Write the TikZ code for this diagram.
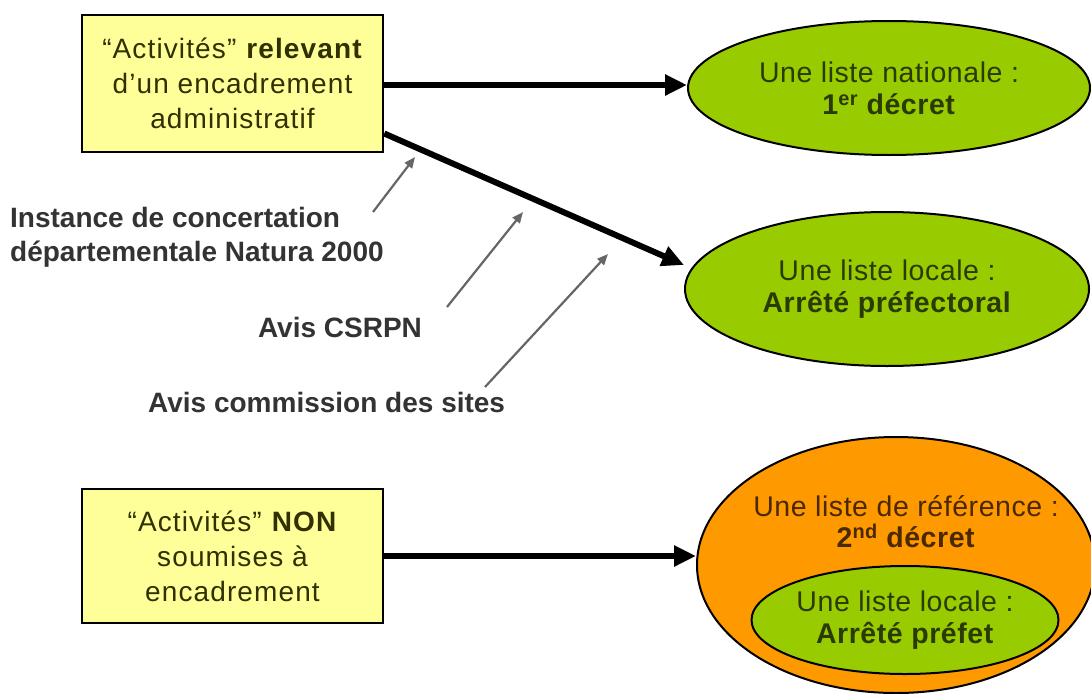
\documentclass[tikz,border=0pt]{standalone}
\usepackage{fontspec}
\setmainfont{Liberation Sans}
\newfontfamily\spacedfont[LetterSpace=4]{Liberation Sans}
\newfontfamily\ellfont[LetterSpace=2]{Liberation Sans}
\usetikzlibrary{shapes.geometric,arrows.meta}
\definecolor{boxyellow}{HTML}{FFFF99}
\definecolor{lgreen}{HTML}{99CC00}
\definecolor{lorange}{HTML}{FF9900}
\definecolor{txtgreen}{HTML}{2A3A00}
\definecolor{txtbrown}{HTML}{4A2800}
\definecolor{txtbox}{HTML}{303000}
\definecolor{labgray}{HTML}{333333}
\definecolor{arrgray}{HTML}{666666}
\begin{document}
\begin{tikzpicture}[x=1pt,y=-1pt,
  yellowbox/.style={draw=black,line width=2.5pt,fill=boxyellow,minimum width=301pt,
    inner sep=0pt,align=center,text=txtbox,font=\spacedfont\fontsize{28}{35}\selectfont},
  greenell/.style={ellipse,draw=black,line width=2pt,fill=lgreen,inner sep=0pt,
    align=center,text=txtgreen,font=\ellfont\fontsize{28.5}{32}\selectfont},
  orangeell/.style={ellipse,draw=black,line width=2pt,fill=lorange,inner sep=0pt},
  labtext/.style={inner sep=0pt,text=labgray,font=\bfseries\fontsize{28}{34}\selectfont},
  bigarrow/.style={draw=black,line width=6pt,-{Triangle[length=22pt,width=20pt]}},
  grayarrow/.style={draw=arrgray,line width=2.2pt,-{Triangle[length=11pt,width=9pt]}}
]
\fill[white] (0,0) rectangle (1091,693);
\useasboundingbox (0,0) rectangle (1091,693);

\node[yellowbox,minimum height=137pt] (box1) at (232.5,83.5)
  {“Activités” \textbf{relevant}\\d’un encadrement\\administratif};
\node[yellowbox,minimum height=134pt] (box2) at (232.5,556)
  {“Activités” \textbf{NON}\\soumises à\\encadrement};

\node[greenell,minimum width=402pt,minimum height=134pt] (ell1) at (889,88)
  {Une liste nationale :\\\textbf{1\textsuperscript{er} décret}};
\node[greenell,minimum width=404pt,minimum height=154pt] (ell2) at (887,289)
  {Une liste locale :\\\textbf{Arrêté préfectoral}};
\node[orangeell,minimum width=398pt,minimum height=256pt] (ell3) at (896,565) {};
\node[inner sep=0pt,align=center,text=txtbrown,font=\ellfont\fontsize{28.5}{31}\selectfont] (ell3txt) at (906,522)
  {Une liste de référence :\\\textbf{2\textsuperscript{nd} décret}};
\node[greenell,minimum width=296pt,minimum height=108pt] (ell4) at (905,620)
  {Une liste locale :\\\textbf{Arrêté préfet}};

\node[labtext,anchor=west,align=left] (lab1) at (10,237)
  {Instance de concertation\\départementale Natura 2000};
\node[labtext] (lab2) at (340,327) {Avis CSRPN};
\node[labtext,anchor=west] (lab3) at (148,402) {Avis commission des sites};

\draw[bigarrow] ([yshift=-1.5pt]box1.east) -- ([yshift=-1.5pt]box1.east -| ell1.west);
\draw[bigarrow] ([yshift=-50pt]box1.east) -- ([yshift=24pt]ell2.west);
\draw[bigarrow] (box2.east) -- (box2.east -| ell3.west);

\coordinate (g1s) at (373,212);
\coordinate (g1e) at (415,157);
\coordinate (g2s) at (447,307);
\coordinate (g2e) at (523,212);
\coordinate (g3s) at (485,387);
\coordinate (g3e) at (608,254);
\draw[grayarrow] (g1s) -- (g1e);
\draw[grayarrow] (g2s) -- (g2e);
\draw[grayarrow] (g3s) -- (g3e);
\end{tikzpicture}
\end{document}
